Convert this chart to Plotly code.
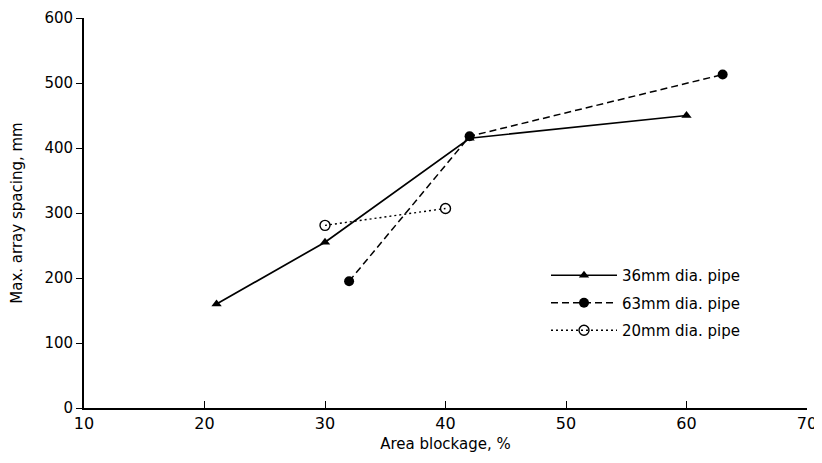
import plotly.graph_objects as go

x_36 = [21, 30, 42, 60]
y_36 = [160, 255, 415, 450]
x_63 = [32, 42, 63]
y_63 = [195, 418, 513]
x_20 = [30, 40]
y_20 = [281, 307]

x_ticks = [10, 20, 30, 40, 50, 60, 70]
y_ticks = [0, 100, 200, 300, 400, 500, 600]

fig = go.Figure()
fig.add_trace(go.Scatter(
    x=x_36, y=y_36, mode="lines+markers", name="36mm dia. pipe", legendgroup="a",
    line=dict(color="black", width=1.7, dash="solid"),
    marker=dict(symbol="triangle-up", size=9, color="black"),
))
fig.add_trace(go.Scatter(
    x=x_63, y=y_63, mode="lines+markers", name="63mm dia. pipe", legendgroup="b",
    line=dict(color="black", width=1.5, dash="7px,4px"),
    marker=dict(symbol="circle", size=10, color="black"),
))
fig.add_trace(go.Scatter(
    x=x_20, y=y_20, mode="lines+markers", name="20mm dia. pipe", legendgroup="c",
    line=dict(color="black", width=1.4, dash="2px,3px"),
    marker=dict(symbol="circle-open", size=10, color="black", line=dict(width=1.4)),
))

font_family = "DejaVu Sans, Liberation Sans, Arial, sans-serif"

# page body has an 8px default margin, so the figure is sized to fit inside it
fig.update_layout(
    width=814, height=455,
    margin=dict(l=76, r=15, t=10, b=55),
    paper_bgcolor="white", plot_bgcolor="white",
    font=dict(family=font_family, size=15, color="black"),
    showlegend=True,
    legend=dict(
        x=0.639, y=0.382, xanchor="left", yanchor="top",
        bgcolor="rgba(0,0,0,0)", font=dict(size=15),
        traceorder="grouped", tracegroupgap=5, itemwidth=66,
    ),
    xaxis=dict(
        range=[10, 70], tickvals=x_ticks, ticktext=[str(v) for v in x_ticks],
        showgrid=False, zeroline=False, showline=True, linecolor="black", linewidth=1.6,
        ticks="inside", ticklen=7, tickwidth=1.3, tickcolor="black", automargin=False,
        ticklabeloverflow="allow",
        title=dict(text="Area blockage, %", font=dict(size=15), standoff=6),
        tickfont=dict(size=16),
    ),
    yaxis=dict(
        range=[0, 600], tickvals=y_ticks, ticktext=[str(v) for v in y_ticks],
        showgrid=False, zeroline=False, showline=True, linecolor="black", linewidth=1.8,
        ticks="outside", ticklen=6, tickwidth=1.3, tickcolor="black", automargin=False,
        ticklabeloverflow="allow",
        title=dict(text="Max. array spacing, mm", font=dict(size=15), standoff=18),
        tickfont=dict(size=15),
    ),
)

fig.write_html("out.html")
